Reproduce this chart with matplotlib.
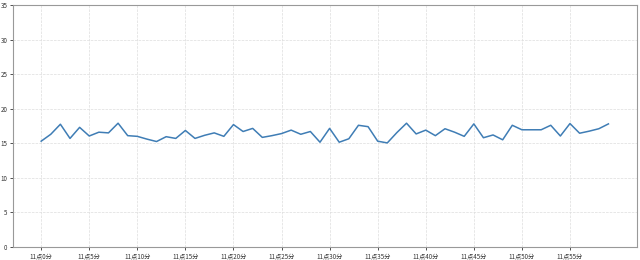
import matplotlib
matplotlib.use('Agg')
import matplotlib.pyplot as plt

plt.rcParams['font.family'] = ['Noto Sans CJK SC', 'DejaVu Sans']

minutes = list(range(60))
values = [15.3, 16.3, 17.75, 15.7, 17.3, 16.05, 16.6, 16.5, 17.9, 16.1,
          16.0, 15.6, 15.25, 15.95, 15.7, 16.85, 15.7, 16.15, 16.5, 16.0,
          17.7, 16.7, 17.15, 15.85, 16.1, 16.4, 16.9, 16.3, 16.7, 15.15,
          17.15, 15.15, 15.65, 17.6, 17.4, 15.3, 15.05, 16.55, 17.9, 16.35,
          16.9, 16.1, 17.1, 16.6, 16.0, 17.8, 15.8, 16.2, 15.5, 17.6,
          16.95, 16.95, 16.95, 17.6, 16.05, 17.85, 16.45, 16.75, 17.1, 17.8]
tick_minutes = list(range(0, 60, 5))
tick_labels = ['11点%d分' % m for m in tick_minutes]

fig = plt.figure(figsize=(6.4, 2.6), dpi=100)
ax = fig.add_axes([0.02, 0.05, 0.975, 0.931])
ax.plot(minutes, values, color='#3f7db5', linewidth=1.1)
ax.set_ylim(0, 35)
ax.set_xticks(tick_minutes)
ax.set_xticklabels(tick_labels)
ax.tick_params(labelsize=4.5, length=2, width=0.6, pad=2, colors='#333333')
ax.grid(True, color='#dddddd', linestyle='--', linewidth=0.5)
for s in ax.spines.values():
    s.set_color('#999999')
    s.set_linewidth(0.8)

plt.savefig('out.png', dpi=100)
